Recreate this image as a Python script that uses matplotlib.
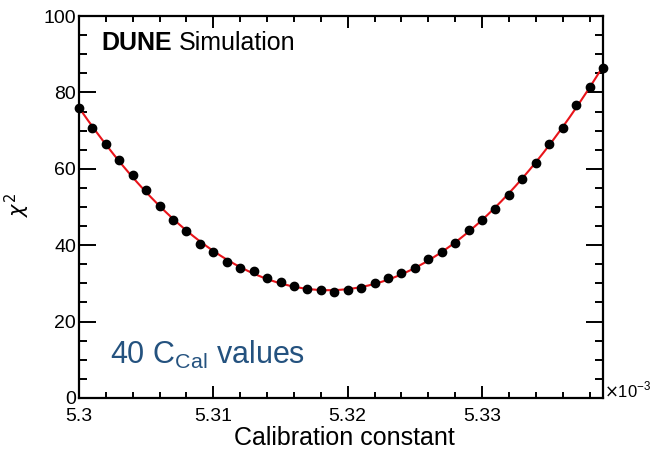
import numpy as np
import matplotlib
matplotlib.use("Agg")
import matplotlib.pyplot as plt
from matplotlib.ticker import MultipleLocator

plt.rcParams['font.family'] = ['Liberation Sans', 'DejaVu Sans']

# calibration constant (units of 1e-3) and chi2 values
calib = [5.300, 5.301, 5.302, 5.303, 5.304, 5.305, 5.306, 5.307, 5.308, 5.309,
         5.310, 5.311, 5.312, 5.313, 5.314, 5.315, 5.316, 5.317, 5.318, 5.319,
         5.320, 5.321, 5.322, 5.323, 5.324, 5.325, 5.326, 5.327, 5.328, 5.329,
         5.330, 5.331, 5.332, 5.333, 5.334, 5.335, 5.336, 5.337, 5.338, 5.339]
chi2 = [75.8, 70.6, 66.5, 62.3, 58.3, 54.5, 50.3, 46.6, 43.7, 40.2,
        38.2, 35.7, 34.1, 33.3, 31.3, 30.4, 29.4, 28.6, 28.2, 27.7,
        28.2, 28.8, 30.0, 31.3, 32.7, 34.1, 36.3, 38.2, 40.6, 43.9,
        46.6, 49.5, 53.2, 57.3, 61.6, 66.4, 70.7, 76.7, 81.5, 86.4]
xtick_vals = [5.30, 5.31, 5.32, 5.33]
xtick_text = ['5.3', '5.31', '5.32', '5.33']
ytick_vals = [0, 20, 40, 60, 80, 100]

x = np.array(calib)
y = np.array(chi2)

# polynomial fit drawn as the red curve
coef = np.polyfit(x - 5.32, y, 4)
xf = np.linspace(x.min(), x.max(), 300)
yf = np.polyval(coef, xf - 5.32)

fig = plt.figure(figsize=(6.52, 4.5), dpi=100)
ax = fig.add_axes([0.1212, 0.1156, 0.8036, 0.8488])

ax.plot(xf, yf, color='#e8141a', lw=1.5, zorder=2)
ax.plot(x, y, 'o', color='black', ms=6, zorder=3, clip_on=False)

ax.set_xlim(5.300, 5.339)
ax.set_ylim(0, 100)

ax.xaxis.set_minor_locator(MultipleLocator(0.002))
ax.yaxis.set_minor_locator(MultipleLocator(5))
ax.set_xticks(xtick_vals)
ax.set_xticklabels(xtick_text)
ax.set_yticks(ytick_vals)
ax.set_yticklabels([str(v) for v in ytick_vals], va='center_baseline')

for s in ax.spines.values():
    s.set_linewidth(1.6)
ax.tick_params(axis='both', which='both', direction='in', top=True, right=True,
               width=1.4, labelsize=14)
ax.tick_params(axis='x', which='major', length=8.5, pad=7)
ax.tick_params(axis='x', which='minor', length=4)
ax.tick_params(axis='y', which='major', length=12.5, pad=2)
ax.tick_params(axis='y', which='minor', length=6)

t1 = ax.text(0.042, 0.911, 'DUNE', transform=ax.transAxes, fontsize=18,
             fontweight='bold', va='baseline')
ax.annotate('Simulation', xy=(1, 0), xycoords=t1, xytext=(5, 0),
            textcoords='offset points', fontsize=18, va='bottom')

ax.text(0.059, 0.09, r'40 C$_{\mathregular{Cal}}$ values', transform=ax.transAxes,
        fontsize=22, color='#24527f', va='baseline')

fig.text(0.528, 0.026, 'Calibration constant', ha='center', va='center', fontsize=18)
fig.text(0.026, 0.545, r'$\chi^{2}$', rotation=90, ha='center', va='center', fontsize=15)
fig.text(0.927, 0.118, r'$\times$10$^{\mathregular{-3}}$', ha='left', va='baseline',
         fontsize=12)

fig.savefig('out.png', dpi=100)
